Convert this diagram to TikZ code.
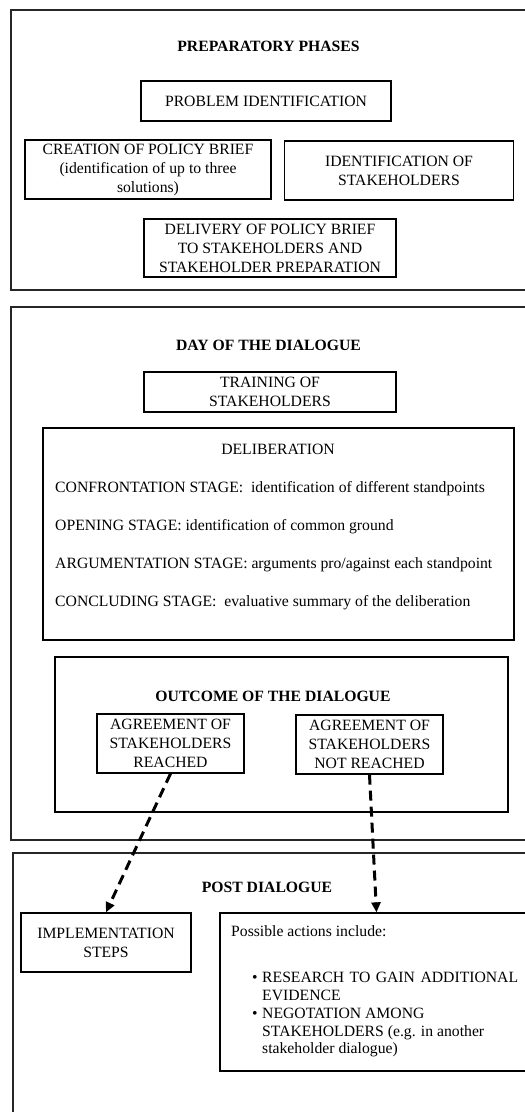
\documentclass[tikz,border=0pt]{standalone}
\usepackage{fontspec}
\setmainfont{Liberation Serif}
\usetikzlibrary{arrows.meta}
\begin{document}
\begin{tikzpicture}[x=1pt,y=-1pt,
  every node/.style={font=\fontsize{15.7}{19}\selectfont},
  frame/.style={draw=black!85, line width=2pt},
  boxed/.style={draw, line width=1.3pt, align=center, inner sep=0pt},
  title/.style={font=\fontsize{15.7}{19}\selectfont\bfseries, anchor=base, inner sep=0pt},
  line/.style={anchor=base west, inner sep=0pt},
  dasharrow/.style={line width=3pt, dash pattern=on 10pt off 6pt, -{Triangle[length=10pt,width=9pt]}}]
\clip (0,0) rectangle (525,1112);
\fill[white] (0,0) rectangle (525,1112);
% frames
\draw[frame] (11,10) rectangle (540,290);
\draw[frame] (11,307) rectangle (540,840);
\draw[frame] (13,853) rectangle (540,1130);
% preparatory phases
\node[title] (t1) at (268.5,51) {PREPARATORY PHASES};
\node[boxed, minimum width=250pt, minimum height=40pt] (prob) at (266,101) {PROBLEM IDENTIFICATION};
\node[boxed, minimum width=246pt, minimum height=59pt] (brief) at (148,169.5) {CREATION OF POLICY BRIEF\\(identification of up to three\\solutions)};
\node[boxed, minimum width=229pt, minimum height=59pt] (ident) at (399,170.5) {IDENTIFICATION OF\\STAKEHOLDERS};
\node[boxed, minimum width=252pt, minimum height=58pt] (deliv) at (270,248) {DELIVERY OF POLICY BRIEF\\TO STAKEHOLDERS AND\\STAKEHOLDER PREPARATION};
% day of the dialogue
\node[title] (t2) at (268.5,350.7) {DAY OF THE DIALOGUE};
\node[boxed, minimum width=252pt, minimum height=40pt] (train) at (270,392) {TRAINING OF\\STAKEHOLDERS};
\node[boxed, minimum width=471pt, minimum height=212pt] (delib) at (278.5,534) {};
\node[anchor=base, inner sep=0pt] (dtitle) at (278,454) {DELIBERATION};
\node[line] (l1) at (55,492.3) {CONFRONTATION STAGE:\ \ identification of different standpoints};
\node[line] (l2) at (55,530.3) {OPENING STAGE: identification of common ground};
\node[line] (l3) at (55,568.3) {ARGUMENTATION STAGE: arguments pro/against each standpoint};
\node[line] (l4) at (55,606.3) {CONCLUDING STAGE:\ \ evaluative summary of the deliberation};
% outcome
\node[boxed, minimum width=453pt, minimum height=155pt] (outc) at (281.5,734.5) {};
\node[title] (t3) at (273,701.7) {OUTCOME OF THE DIALOGUE};
\node[boxed, minimum width=147pt, minimum height=59pt] (reached) at (170.5,743.5) {AGREEMENT OF\\STAKEHOLDERS\\REACHED};
\node[boxed, minimum width=147pt, minimum height=59pt] (notreached) at (369.5,744.5) {AGREEMENT OF\\STAKEHOLDERS\\NOT REACHED};
% post dialogue
\node[title] (t4) at (267,892.7) {POST DIALOGUE};
\node[boxed, minimum width=170pt, minimum height=59pt] (impl) at (106,942.5) {IMPLEMENTATION\\STEPS};
\node[boxed, minimum width=313pt, minimum height=158pt] (poss) at (376.5,992) {};
\node[line] (p0) at (231,936) {Possible actions include:};
\node[line] (b1) at (252,982.7) {•};
\node[line] (p1) at (262,982.7) {\makebox[256pt][s]{RESEARCH\hfill TO\hfill GAIN\hfill ADDITIONAL}};
\node[line] (p2) at (262,1000.5) {EVIDENCE};
\node[line] (b2) at (252,1018.3) {•};
\node[line] (p3) at (262,1018.3) {NEGOTATION AMONG};
\node[line] (p4) at (262,1036.1) {STAKEHOLDERS (e.g. in another};
\node[line] (p5) at (262,1053.9) {stakeholder dialogue)};
% arrows
\draw[dasharrow] (reached.south) -- (impl.north);
\draw[dasharrow] (notreached.south) -- (poss.north);
\end{tikzpicture}
\end{document}
